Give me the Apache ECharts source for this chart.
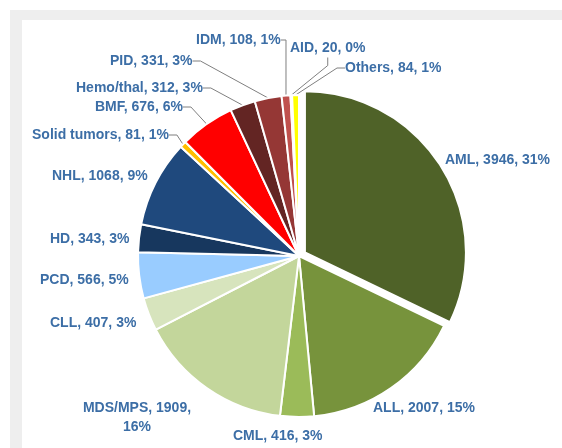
<!DOCTYPE html>
<html>
<head>
<meta charset="utf-8">
<script src="https://cdn.jsdelivr.net/npm/echarts@6/dist/echarts.min.js"></script>
<style>
    html, body { margin: 0; padding: 0; background: #fff; }
    #frame { position: absolute; left: 10px; top: 10px; width: 552px; height: 438px; background: #eeeeee; }
    #inner { position: absolute; left: 22px; top: 20px; width: 540px; height: 428px; background: #fff; }
    #main { position: absolute; left: 0; top: 0; width: 562px; height: 448px; }
</style>
</head>
<body>
<div id="frame"></div>
<div id="inner"></div>
<div id="main"></div>
<script>
// categories and values, clockwise from 12 o'clock
var names = ['AML', 'ALL', 'CML', 'MDS/MPS', 'CLL', 'PCD', 'HD', 'NHL', 'Solid tumors', 'BMF', 'Hemo/thal', 'PID', 'IDM', 'AID', 'Others'];
var counts = [3946, 2007, 416, 1909, 407, 566, 343, 1068, 81, 676, 312, 331, 108, 20, 84];
// percentages as printed on the chart
var percents = [31, 15, 3, 16, 3, 5, 3, 9, 1, 6, 3, 3, 1, 0, 1];
var colors = ['#4f6228', '#77933c', '#9bbb59', '#c3d69b', '#d7e4bd', '#99ccff', '#17375e', '#1f497d', '#ffc000', '#ff0000', '#632523', '#953735', '#c0504d', '#c00000', '#ffff00'];

// label anchor points [x, y, align] (layout only)
var labelPos = [
    [445, 160, 'left'], [373, 408, 'left'], [233, 436, 'left'], [137, 418, 'center'],
    [50, 323, 'left'], [40, 280, 'left'], [50, 239, 'left'], [52, 176, 'left'],
    [32, 135, 'left'], [95, 107, 'left'], [76, 88, 'left'], [110, 61, 'left'],
    [196, 40, 'left'], [290, 48, 'left'], [345, 68, 'left']
];
var withLine = [8, 9, 10, 11, 12, 13, 14];
var exploded = 0; // AML pulled out

var cx = 299, cy = 256, R = 161, pull = 7;
var total = counts.reduce(function (a, b) { return a + b; }, 0);
var midAng = counts[exploded] / total * Math.PI; // bisector from 12 o'clock
var ex = cx + pull * Math.sin(midAng), ey = cy - pull * Math.cos(midAng);

function buildData(onlyExploded) {
    return names.map(function (n, i) {
        var visible = onlyExploded ? i === exploded : i !== exploded;
        return {
            name: n,
            value: counts[i],
            itemStyle: visible ? { color: colors[i] } : { color: 'rgba(0,0,0,0)', borderWidth: 0 },
            label: { show: visible },
            labelLine: { show: visible && withLine.indexOf(i) >= 0 }
        };
    });
}

var chart = echarts.init(document.getElementById('main'), null, { renderer: 'canvas' });

function pieSeries(center, data) {
    return {
        type: 'pie',
        center: center,
        radius: R,
        startAngle: 90,
        clockwise: true,
        silent: true,
        itemStyle: { borderColor: '#fff', borderWidth: 2 },
        emphasis: { disabled: true },
        label: {
            show: true,
            position: 'outside',
            alignTo: 'none',
            overflow: 'none',
            color: '#3c6ea6',
            fontFamily: 'Liberation Sans, Arial, sans-serif',
            fontWeight: 'bold',
            fontSize: 14,
            lineHeight: 19,
            formatter: function (p) {
                var i = p.dataIndex;
                if (names[i] === 'MDS/MPS') {
                    return names[i] + ', ' + counts[i] + ',\n' + percents[i] + '%';
                }
                return names[i] + ', ' + counts[i] + ', ' + percents[i] + '%';
            }
        },
        labelLine: {
            show: true,
            length: 10,
            length2: 8,
            lineStyle: { color: '#7f7f7f', width: 1 }
        },
        labelLayout: function (params) {
            var p = labelPos[params.dataIndex];
            return {
                x: p[0],
                y: p[1],
                align: p[2],
                verticalAlign: 'middle'
            };
        },
        data: data
    };
}

chart.setOption({
    animation: false,
    backgroundColor: 'transparent',
    series: [
        pieSeries([cx, cy], buildData(false)),
        pieSeries([ex, ey], buildData(true))
    ]
});
</script>
</body>
</html>
